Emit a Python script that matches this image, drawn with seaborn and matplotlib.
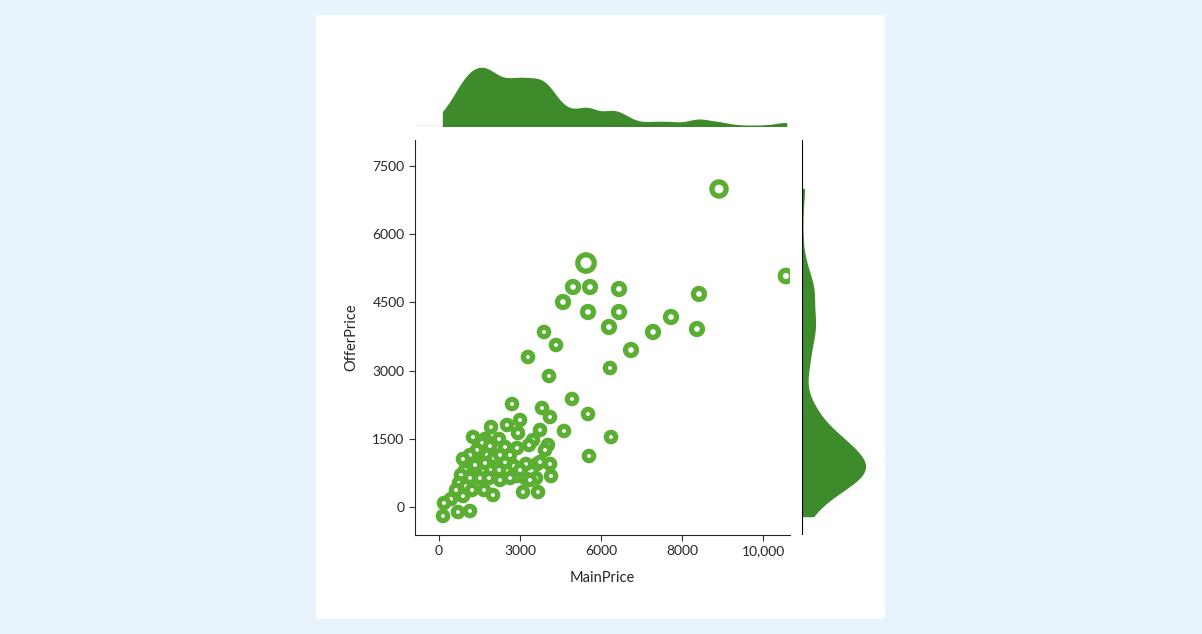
import matplotlib
matplotlib.use("Agg")
import matplotlib.pyplot as plt
import seaborn as sns
import pandas as pd
from matplotlib.patches import Rectangle

main_price = [10360,12839,5439,4958,5587,4588,6660,5513,6660,6290,9620,8584,9546,7918,7104,3885,3293,4329,4070,6327,
              4921,5513,4625,6364,5550,2701,3811,2997,4107,2516,1924,1258,1702,2220,3478,2923,3737,3330,2886,4033,
              3922,2442,1591,1887,1406,1147,1776,888,1517,2035,2442,2775,3219,3626,4107,3589,4144,3663,3108,3737,
              2886,2220,1887,1591,1332,962,814,1147,1517,1850,2257,2627,3182,740,999,1221,1665,1998,888,629,
              444,185,703,1147,148,1332,1702,2257,2627,3367,2997]
offer_price = [6996,5082,5368,4840,4840,4510,4796,4290,4290,3960,4686,4180,3916,3850,3454,3850,3300,3564,2882,3058,
               2376,2046,1672,1540,1122,2266,2178,1914,1980,1804,1760,1540,1496,1496,1474,1628,1694,1364,1298,1364,
               1254,1320,1408,1342,1254,1144,1144,1056,968,1078,990,902,946,946,946,638,682,330,330,990,
               682,814,814,814,858,814,704,638,638,638,594,638,638,528,462,374,374,264,242,374,
               176,88,-110,-88,-198,924,968,1144,1144,594,814]
sizes = [2.0,1.4,2.6] + [1.3]*12 + [1.0]*(len(main_price)-15)
x_ticks = [0,3000,6000,9000,12000]
x_tick_labels = ["0","3000","6000","8000","10,000"]
y_ticks = [0,1500,3000,4500,6000,7500]

df = pd.DataFrame({"MainPrice": main_price, "OfferPrice": offer_price, "s": sizes})

sns.set_style("white")
plt.rcParams["font.family"] = ["Lato", "DejaVu Sans"]

W, H = 1202, 634
fig = plt.figure(figsize=(12.02, 6.34), dpi=100, facecolor="#e8f3fb")
bg = fig.add_axes([316/W, 1-619/H, (885-316)/W, (619-15)/H], zorder=-5)
bg.set_facecolor("white")
bg.set_xticks([]); bg.set_yticks([])
for s in bg.spines.values():
    s.set_visible(False)
green = "#5aae32"
dark = "#3d8b2a"

ax = fig.add_axes([415/W, 1-535/H, 375/W, 395/H], zorder=2)
ax_top = fig.add_axes([415/W, 1-126/H, 375/W, 61/H], zorder=2)
ax_right = fig.add_axes([802/W, 1-535/H, 66/W, 395/H], zorder=2)
for a in (ax, ax_top, ax_right):
    a.patch.set_alpha(0)

sns.regplot(data=df, x="MainPrice", y="OfferPrice", scatter=False, ci=None, ax=ax,
            line_kws={"color": "#c5e0ae", "lw": 0.8}, truncate=False)
sns.scatterplot(data=df, x="MainPrice", y="OfferPrice", size="s", sizes=(45, 140), legend=False,
                facecolor="white", edgecolor=green, linewidth=3.8, ax=ax, zorder=3)
ax.set_xlim(-888, 12987)
ax.set_ylim(-616, 8074)
ax.set_xticks(x_ticks)
ax.set_xticklabels(x_tick_labels)
ax.set_yticks(y_ticks)
ax.tick_params(axis="both", length=4, labelsize=10, color="#333333", bottom=True, left=True)
ax.set_xlabel("MainPrice", fontsize=10.5, labelpad=10)
ax.set_ylabel("OfferPrice", fontsize=10.5, labelpad=10)
sns.despine(ax=ax)

sns.kdeplot(data=df, x="MainPrice", fill=True, color=dark, alpha=1, ax=ax_top, bw_adjust=0.4, cut=0)
ax_top.set_xlim(-888, 12987)
ax_top.axis("off")
ax_top.axhline(0, color="black", lw=0.8)

sns.kdeplot(data=df, y="OfferPrice", fill=True, color=dark, alpha=1, ax=ax_right, bw_adjust=0.5, cut=0)
ax_right.set_ylim(-616, 8074)
ax_right.axis("off")
ax_right.axvline(0, color="black", lw=0.8)

fig.savefig("out.png", dpi=100, facecolor=fig.get_facecolor())
